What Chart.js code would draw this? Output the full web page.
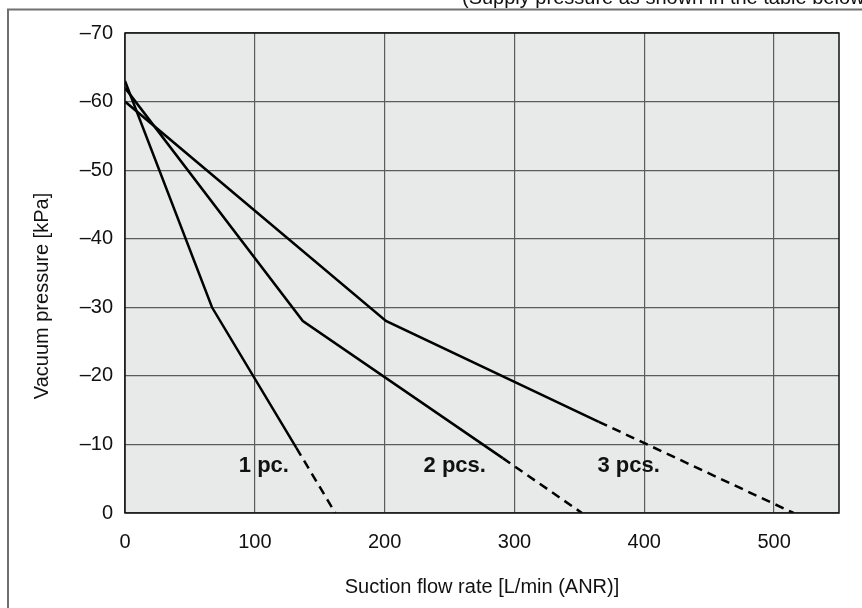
<!DOCTYPE html>
<html><head><meta charset="utf-8">
<script src="https://cdn.jsdelivr.net/npm/chart.js@4.4.1/dist/chart.umd.min.js"></script>
<style>html,body{margin:0;padding:0;background:#fff;overflow:hidden}#wrap{position:relative;width:862px;height:608px}canvas{display:block}</style>
</head><body><div id="wrap"><canvas id="c" width="862" height="608"></canvas></div>
<script>
// ---- data ----
const seriesNames = ['1 pc.', '2 pcs.', '3 pcs.'];
const flow1 = [0, 67, 132, 162];
const vac1  = [-63, -30, -9.5, 0];
const flow2 = [0, 137, 291, 352];
const vac2  = [-62, -28, -8, 0];
const flow3 = [0, 201, 365, 515];
const vac3  = [-60, -28, -13.3, 0];
const labelFlow = [107, 254, 388];
const labelVac  = [-6.8, -6.8, -6.8];
const xTicks = [0, 100, 200, 300, 400, 500];
const yTicks = [-70, -60, -50, -40, -30, -20, -10, 0];
const caption = '(Supply pressure as shown in the table below)';
const xTitle = 'Suction flow rate [L/min (ANR)]';
const yTitle = 'Vacuum pressure [kPa]';

const FONT = "'Liberation Sans', Arial, Helvetica, sans-serif";

function pts(xs, ys) { return xs.map((x, i) => ({x: x, y: ys[i]})); }
function ds(name, xs, ys) {
  const last = xs.length - 1;
  return {
    label: name,
    data: pts(xs, ys),
    borderColor: '#000',
    borderWidth: 2.5,
    pointRadius: 0,
    fill: false,
    tension: 0,
    segment: { borderDash: c => (c.p1DataIndex === last ? [9, 6] : undefined) }
  };
}

const decor = {
  id: 'decor',
  beforeDraw(chart) {
    const a = chart.chartArea, ctx = chart.ctx;
    ctx.save();
    ctx.fillStyle = '#e8e9e9';
    ctx.fillRect(a.left, a.top, a.right - a.left, a.bottom - a.top);
    ctx.restore();
  },
  afterDraw(chart) {
    const a = chart.chartArea, ctx = chart.ctx;
    const xs = chart.scales.x, ys = chart.scales.y;
    ctx.save();
    // plot box
    ctx.strokeStyle = '#111';
    ctx.lineWidth = 1.5;
    ctx.strokeRect(a.left, a.top, a.right - a.left, a.bottom - a.top);
    // outer frame
    ctx.strokeStyle = '#707070';
    ctx.lineWidth = 2;
    ctx.beginPath();
    ctx.moveTo(8, 610); ctx.lineTo(8, 9.5); ctx.lineTo(870, 9.5);
    ctx.stroke();
    // caption (cut at top)
    ctx.fillStyle = '#111';
    ctx.font = '20px ' + FONT;
    ctx.textAlign = 'left';
    ctx.textBaseline = 'alphabetic';
    ctx.fillText(caption, 462, 4);
    // y title
    ctx.save();
    ctx.translate(42, 296);
    ctx.rotate(-Math.PI / 2);
    ctx.textAlign = 'center';
    ctx.textBaseline = 'middle';
    ctx.fillText(yTitle, 0, 0);
    ctx.restore();
    // series labels
    ctx.font = 'bold 22px ' + FONT;
    ctx.textAlign = 'center';
    ctx.textBaseline = 'middle';
    seriesNames.forEach((n, i) => {
      ctx.fillText(n, xs.getPixelForValue(labelFlow[i]), ys.getPixelForValue(labelVac[i]));
    });
    ctx.restore();
  }
};

new Chart(document.getElementById('c'), {
  type: 'line',
  data: { datasets: [ds(seriesNames[0], flow1, vac1), ds(seriesNames[1], flow2, vac2), ds(seriesNames[2], flow3, vac3)] },
  options: {
    responsive: false,
    animation: false,
    layout: { padding: { left: 0, right: 23, top: 33, bottom: 0 } },
    plugins: { legend: { display: false }, tooltip: { enabled: false } },
    scales: {
      x: {
        type: 'linear', min: 0, max: 550,
        afterBuildTicks: s => { s.ticks = xTicks.map(v => ({value: v})); },
        afterFit: s => { s.height = 95; },
        grid: { color: '#5c5c5c', lineWidth: 1.2, drawTicks: false },
        border: { display: false },
        ticks: { padding: 17, color: '#111', font: { size: 20, family: FONT }, maxRotation: 0 },
        title: { display: true, text: xTitle, color: '#111', font: { size: 20, family: FONT }, padding: { top: 0, bottom: 9 } }
      },
      y: {
        type: 'linear', min: -70, max: 0, reverse: true,
        afterBuildTicks: s => { s.ticks = yTicks.map(v => ({value: v})); },
        afterFit: s => { s.width = 125; },
        grid: { color: '#5c5c5c', lineWidth: 1.2, drawTicks: false },
        border: { display: false },
        ticks: { padding: 12, color: '#111', font: { size: 20, family: FONT },
                 callback: v => (v < 0 ? '\u2013' + Math.abs(v) : String(v)) }
      }
    }
  },
  plugins: [decor]
});
</script></body></html>
